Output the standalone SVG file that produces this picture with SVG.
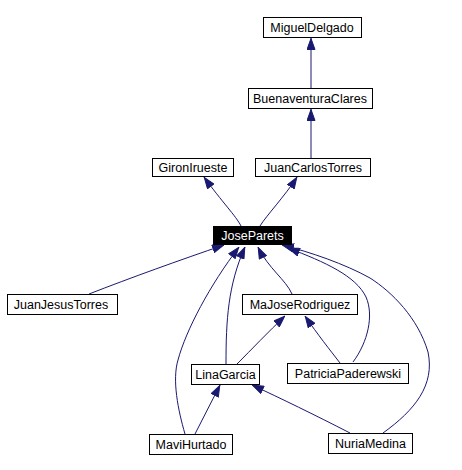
<svg xmlns="http://www.w3.org/2000/svg" width="462" height="470" viewBox="0 0 462 470">
<style>
.n rect{fill:#fff;stroke:#000;stroke-width:1}
.n text{font-family:"Liberation Sans",Arial,Helvetica,sans-serif;font-size:12.5px;fill:#000;text-anchor:middle}
#JoseParets rect{fill:#000}
#JoseParets text{fill:#fff}
.e path{fill:none;stroke:#191970;stroke-width:1;marker-end:url(#arr)}
</style>
<defs>
<marker id="arr" markerUnits="userSpaceOnUse" markerWidth="12" markerHeight="9" viewBox="0 0 12 9" refX="12" refY="4.5" orient="auto">
<path d="M0.5,0.5 L11.5,4.5 L0.5,8.5 Z" fill="#191970" stroke="#191970" stroke-width="1"/>
</marker>
</defs>
<rect width="462" height="470" fill="#fff"/>
<g class="e" id="edges">
<path d="M311,88 L311,38"/>
<path d="M311,159 L311,109"/>
<path d="M241,226 C236,216 222,202 204,177"/>
<path d="M260,226 C266,216 285,196 297,177"/>
<path d="M89,294 C130,278 180,260 224,245"/>
<path d="M185,434 C178,410 172,380 178,360 C186,330 210,285 239,247"/>
<path d="M226,364 C226,320 228,285 245,247"/>
<path d="M292,294 C286,280 268,268 258,247"/>
<path d="M353,362 C368,342 374,315 366,297 C356,276 325,262 288,248"/>
<path d="M383,433 C415,410 435,385 428,352 C418,318 392,292 370,278 C345,264 310,252 282,245"/>
<path d="M237,364 C252,349 268,332 285,316"/>
<path d="M340,363 C330,350 318,335 305,316"/>
<path d="M195,434 L220,385"/>
<path d="M350,433 C315,415 280,398 252,385"/>
</g>
<g class="n" id="MiguelDelgado"><rect x="263.5" y="17.5" width="98" height="20"/><text x="312" y="32">MiguelDelgado</text></g>
<g class="n" id="BuenaventuraClares"><rect x="248.5" y="88.5" width="124" height="20"/><text x="310" y="103">BuenaventuraClares</text></g>
<g class="n" id="GironIrueste"><rect x="152.5" y="158.5" width="81" height="18"/><text x="193" y="172">GironIrueste</text></g>
<g class="n" id="JuanCarlosTorres"><rect x="255.5" y="158.5" width="115" height="18"/><text x="313" y="172">JuanCarlosTorres</text></g>
<g class="n" id="JoseParets"><rect x="213.5" y="226.5" width="78" height="18"/><text x="252.5" y="240">JoseParets</text></g>
<g class="n" id="JuanJesusTorres"><rect x="7.5" y="294.5" width="110" height="20"/><text x="61" y="309">JuanJesusTorres</text></g>
<g class="n" id="MaJoseRodriguez"><rect x="242.5" y="294.5" width="115" height="20"/><text x="300" y="309">MaJoseRodriguez</text></g>
<g class="n" id="LinaGarcia"><rect x="191.5" y="364.5" width="68" height="20"/><text x="225.5" y="379">LinaGarcia</text></g>
<g class="n" id="PatriciaPaderewski"><rect x="287.5" y="363.5" width="121" height="20"/><text x="348" y="378">PatriciaPaderewski</text></g>
<g class="n" id="MaviHurtado"><rect x="149.5" y="434.5" width="83" height="20"/><text x="191" y="449">MaviHurtado</text></g>
<g class="n" id="NuriaMedina"><rect x="328.5" y="433.5" width="84" height="20"/><text x="370.5" y="448">NuriaMedina</text></g>
</svg>
